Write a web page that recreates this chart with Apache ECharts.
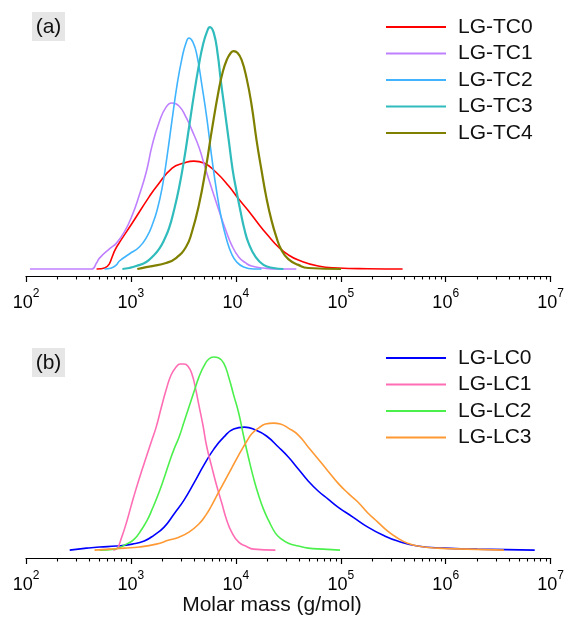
<!DOCTYPE html>
<html><head><meta charset="utf-8">
<script src="https://cdn.jsdelivr.net/npm/echarts@6/dist/echarts.min.js"></script>
<style>html,body{margin:0;padding:0;background:#fff}#c{width:567px;height:617px}</style>
</head><body><div id="c"></div>
<script>
// ---------- data ----------
const namesA = ['LG-TC0','LG-TC1','LG-TC2','LG-TC3','LG-TC4'];
const namesB = ['LG-LC0','LG-LC1','LG-LC2','LG-LC3'];
const tickExponents = [2,3,4,5,6,7];
const xTitle = 'Molar mass (g/mol)';
const panelLabels = ['(a)','(b)'];

const tc0_M = [470,560,730,1030,1490,1740,2470,3210,3980,4960,6440,8550,10640,13220,16440,20450,25420,31620,39360,60810,93980,181100,388200];
const tc0_I = [0,0.004,0.091,0.190,0.298,0.339,0.417,0.438,0.446,0.438,0.401,0.343,0.289,0.240,0.186,0.136,0.091,0.058,0.037,0.012,0.004,0.001,0];

const tc1_M = [109,210,422,470,502,624,728,866,1031,1202,1400,1595,1858,2163,2466,2872,3347,3813,4443,5176,5902,6871,8004,9120,10640,12390,14120,18330,25420,37670];
const tc1_I = [0,0,0,0.025,0.045,0.083,0.107,0.153,0.223,0.306,0.401,0.512,0.607,0.669,0.686,0.674,0.628,0.574,0.504,0.409,0.331,0.244,0.161,0.099,0.050,0.025,0.012,0.004,0,0];

const tc2_M = [560,652,728,777,966,1202,1430,1595,1778,1983,2212,2466,2750,3067,3347,3573,3898,4254,4745,5288,5902,6577,7339,8185,9120,10180,11850,14750,17540];
const tc2_I = [0,0.004,0.017,0.033,0.062,0.091,0.136,0.182,0.244,0.335,0.467,0.616,0.760,0.872,0.934,0.955,0.938,0.884,0.760,0.624,0.459,0.318,0.202,0.120,0.062,0.029,0.008,0,0];

const tc3_M = [829,966,1125,1400,1666,1858,2071,2310,2576,2872,3206,3573,3981,4443,4853,5288,5649,6166,6730,7178,7834,8551,9330,10180,11100,12110,13220,15400,18330,22800,28370];
const tc3_I = [0,0.004,0.012,0.029,0.058,0.083,0.120,0.169,0.244,0.335,0.450,0.583,0.719,0.843,0.926,0.979,1.0,0.975,0.884,0.781,0.657,0.533,0.409,0.318,0.236,0.161,0.107,0.050,0.017,0.004,0];

const tc4_M = [1150,1400,1595,2163,2692,3347,3813,4443,5176,5902,6871,7499,8185,8930,9530,10400,11350,12650,14120,15740,17540,19580,21830,24340,27160,31620,39360,48890,100500];
const tc4_I = [0,0.008,0.012,0.025,0.045,0.091,0.153,0.264,0.417,0.574,0.740,0.814,0.864,0.893,0.901,0.893,0.864,0.789,0.678,0.533,0.409,0.293,0.202,0.132,0.079,0.041,0.017,0.004,0];

const lc0_M = [261,378,502,728,1031,1340,1666,2071,2576,3206,3981,4955,6166,7661,9530,12110,15400,19580,25420,31620,39360,48890,60810,75680,93980,130500,181100,251000,348300,538300,970000,1991000,7050000];
const lc0_I = [0,0.010,0.016,0.021,0.031,0.047,0.078,0.119,0.187,0.259,0.347,0.440,0.523,0.585,0.627,0.637,0.622,0.591,0.534,0.482,0.420,0.358,0.306,0.264,0.223,0.171,0.119,0.078,0.047,0.021,0.010,0.005,0];

const lc1_M = [681,743,811,904,1009,1125,1255,1400,1561,1740,1941,2163,2414,2692,2937,3206,3497,3813,4160,4443,4853,5288,5902,6577,7339,8185,9120,10640,12390,14750,23820];
const lc1_I = [0,0.010,0.062,0.140,0.233,0.321,0.404,0.482,0.560,0.637,0.736,0.829,0.907,0.948,0.964,0.964,0.953,0.912,0.829,0.751,0.648,0.534,0.430,0.332,0.244,0.155,0.093,0.041,0.021,0.005,0];

const lc2_M = [502,697,904,1077,1255,1430,1595,1858,2071,2310,2576,2872,3206,3573,3981,4443,4955,5525,6166,6871,7661,8551,9530,10640,11850,13220,14750,16440,18330,20450,23820,27160,31620,39360,48890,67800,98200];
const lc2_I = [0,0.005,0.031,0.057,0.104,0.155,0.212,0.301,0.373,0.451,0.523,0.585,0.663,0.741,0.819,0.896,0.953,0.990,1.0,0.995,0.969,0.896,0.803,0.710,0.591,0.477,0.373,0.285,0.212,0.155,0.088,0.057,0.036,0.021,0.010,0.005,0];

const lc3_M = [450,624,866,1202,1740,2310,2872,3573,4443,5176,5902,6871,8004,9120,10640,12390,14120,16440,19140,22800,26550,31620,39360,48890,60810,75680,93980,117000,145500,181100,225100,279900,348300,432700,538300,832500,1602000,3589000];
const lc3_I = [0,0.005,0.010,0.016,0.031,0.052,0.067,0.093,0.135,0.181,0.233,0.301,0.368,0.425,0.492,0.554,0.601,0.632,0.653,0.658,0.653,0.632,0.596,0.534,0.472,0.409,0.347,0.295,0.249,0.192,0.145,0.098,0.062,0.036,0.021,0.010,0.005,0];

// ---------- styles ----------
const FONT = '"Liberation Sans", Arial, Helvetica, sans-serif';
const colorsA = ['#ff0000','#bf80ff','#40b4ff','#30bcbc','#808000'];
const widthsA = [1.6,1.6,1.6,2.2,2.2];
const colorsB = ['#0000ff','#ff6eb4','#4cf04c','#ff9933'];
const widthsB = [1.6,1.6,1.6,1.6];

const seriesA = [[tc0_M,tc0_I],[tc1_M,tc1_I],[tc2_M,tc2_I],[tc3_M,tc3_I],[tc4_M,tc4_I]];
const seriesB = [[lc0_M,lc0_I],[lc1_M,lc1_I],[lc2_M,lc2_I],[lc3_M,lc3_I]];

const minorTicks = [];
for (let d = 2; d < 7; d++) for (let k = 2; k <= 9; k++) minorTicks.push(d + Math.log10(k));

function labelFmt(v) {
  const e = Math.round(Math.log10(v));
  return '{b|10}{s|' + e + '}';
}
const richLabel = {
  b: {fontSize: 18, lineHeight: 24, verticalAlign: 'bottom', color: '#000', fontFamily: FONT},
  s: {fontSize: 12, lineHeight: 12, verticalAlign: 'top', color: '#000', fontFamily: FONT}
};

function mainX(gi) {
  return {
    gridIndex: gi, type: 'log', logBase: 10, min: 100, max: 1e7, splitNumber: 5, position: 'bottom',
    axisLine: {show: true, onZero: false, lineStyle: {color: '#000', width: 1.2}},
    axisTick: {show: true, inside: false, length: 6, lineStyle: {color: '#000', width: 1.2}},
    axisLabel: {show: true, margin: 12, formatter: labelFmt, rich: richLabel},
    splitLine: {show: false}, minorTick: {show: false}, minorSplitLine: {show: false}
  };
}
function minorX(gi) {
  return {
    gridIndex: gi, type: 'value', min: 2, max: 7, position: 'bottom',
    axisLine: {show: false, onZero: false},
    axisTick: {show: true, inside: false, length: 3.5, customValues: minorTicks, lineStyle: {color: '#000', width: 1.1}},
    axisLabel: {show: false}, splitLine: {show: false}
  };
}

const series = [];
seriesA.forEach((s, i) => series.push({
  name: namesA[i], type: 'line', xAxisIndex: 0, yAxisIndex: 0, symbol: 'none', smooth: 0.5,
  lineStyle: {color: colorsA[i], width: widthsA[i]}, itemStyle: {color: colorsA[i]},
  data: s[0].map((m, j) => [m, s[1][j]])
}));
seriesB.forEach((s, i) => series.push({
  name: namesB[i], type: 'line', xAxisIndex: 2, yAxisIndex: 1, symbol: 'none', smooth: 0.5,
  lineStyle: {color: colorsB[i], width: widthsB[i]}, itemStyle: {color: colorsB[i]},
  data: s[0].map((m, j) => [m, s[1][j]])
}));

function legend(names, colors, top) {
  return {
    data: names.map((n, i) => ({name: n, icon: 'rect', itemStyle: {color: colors[i]}})),
    orient: 'vertical', left: 386, top: top, padding: 0,
    itemWidth: 60, itemHeight: 2, itemGap: 4.5, selectedMode: false,
    textStyle: {fontSize: 21, lineHeight: 22, color: '#111', fontFamily: FONT, padding: [0,0,0,7]}
  };
}

const chart = echarts.init(document.getElementById('c'), null, {renderer: 'canvas'});
chart.setOption({
  animation: false,
  backgroundColor: '#fff',
  textStyle: {fontFamily: FONT},
  grid: [
    {left: 26, right: 13, top: 15, bottom: 341},
    {left: 26, right: 13, top: 348, bottom: 59}
  ],
  xAxis: [mainX(0), minorX(0), mainX(1), minorX(1)],
  yAxis: [
    {gridIndex: 0, type: 'value', min: -0.029, max: 1.05, show: false},
    {gridIndex: 1, type: 'value', min: -0.041, max: 1.047, show: false}
  ],
  legend: [legend(namesA, colorsA, 16), legend(namesB, colorsB, 347)],
  graphic: [
    {type: 'rect', shape: {x: 32, y: 12, width: 33, height: 29}, style: {fill: '#e6e6e6'}},
    {type: 'text', x: 48.5, y: 27, style: {text: panelLabels[0], font: '21px ' + FONT, fill: '#111', textAlign: 'center', textVerticalAlign: 'middle'}},
    {type: 'rect', shape: {x: 32, y: 348, width: 33, height: 29}, style: {fill: '#e6e6e6'}},
    {type: 'text', x: 48.5, y: 363, style: {text: panelLabels[1], font: '21px ' + FONT, fill: '#111', textAlign: 'center', textVerticalAlign: 'middle'}},
    {type: 'text', x: 272, y: 605, style: {text: xTitle, font: '21px ' + FONT, fill: '#111', textAlign: 'center', textVerticalAlign: 'middle'}}
  ],
  series: series
});
</script></body></html>
